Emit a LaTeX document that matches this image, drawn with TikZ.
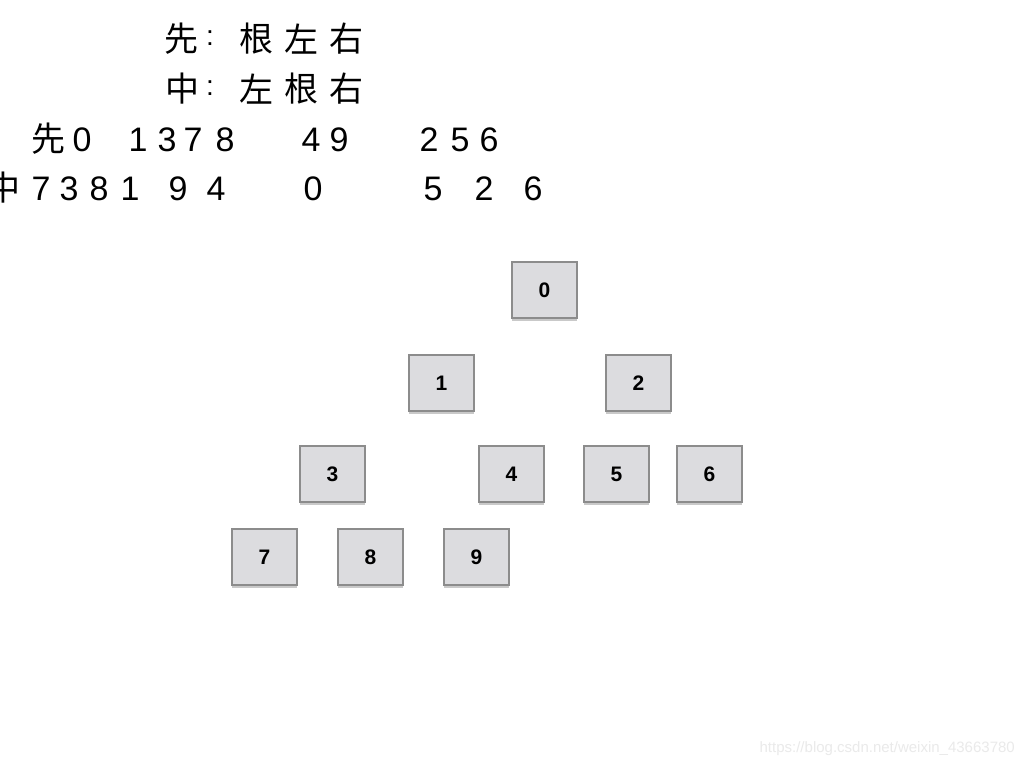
\documentclass[tikz,border=0pt]{standalone}
\usepackage{fontspec}
\setmainfont{Liberation Sans}
\newfontfamily\cjk{Noto Sans CJK SC}
\usetikzlibrary{shadows}
\definecolor{boxfill}{HTML}{DCDCDF}
\definecolor{boxline}{HTML}{8C8C8C}
\definecolor{wm}{HTML}{EAEAEA}
\tikzset{
  treebox/.style={draw=boxline, line width=1.6pt, fill=boxfill, minimum width=65pt, minimum height=56pt,
    inner sep=0pt, font=\fontsize{21}{23}\selectfont\bfseries,
    drop shadow={shadow xshift=0pt, shadow yshift=-2.5pt, opacity=0.35, fill=black!60}},
  han/.style={inner sep=0pt, font=\fontsize{34}{36}\selectfont\cjk},
  dig/.style={inner sep=0pt, font=\fontsize{34}{36}\selectfont},
  colon/.style={inner sep=0pt, font=\fontsize{28}{30}\selectfont},
}
\begin{document}
\begin{tikzpicture}[x=1pt,y=-1pt]
\useasboundingbox (0,0) rectangle (1024,768);
\fill[white] (0,0) rectangle (1024,768);
% line 1
\node[han] (a1) at (181,39) {先};
\node[colon] (a2) at (210,38) {:};
\node[han] (a3) at (256,39) {根};
\node[han] (a4) at (301,39) {左};
\node[han] (a5) at (346,39) {右};
% line 2
\node[han] (b1) at (182,89) {中};
\node[colon] (b2) at (210,88) {:};
\node[han] (b3) at (256,89) {左};
\node[han] (b4) at (301,89) {根};
\node[han] (b5) at (346,89) {右};
% line 3
\node[han] (c0) at (48,139) {先};
\foreach \d/\x [count=\i] in {0/82,1/138,3/167,7/193,8/225,4/311,9/339,2/429,5/460,6/489}
  \node[dig] (c\i) at (\x,140) {\d};
% line 4
\node[han] (d0) at (4,188) {中};
\foreach \d/\x [count=\i] in {7/41,3/69,8/99,1/130,9/178,4/216,0/313,5/433,2/484,6/533}
  \node[dig] (d\i) at (\x,189) {\d};
% tree boxes
\node[treebox] (n0) at (544.5,290) {0};
\node[treebox] (n1) at (441.5,383) {1};
\node[treebox] (n2) at (638.5,383) {2};
\node[treebox] (n3) at (332.5,474) {3};
\node[treebox] (n4) at (511.5,474) {4};
\node[treebox] (n5) at (616.5,474) {5};
\node[treebox] (n6) at (709.5,474) {6};
\node[treebox] (n7) at (264.5,557) {7};
\node[treebox] (n8) at (370.5,557) {8};
\node[treebox] (n9) at (476.5,557) {9};
% watermark
\node[text=wm, font=\fontsize{15}{17}\selectfont, anchor=east, inner sep=0pt] (wm) at (1015,749) {https://blog.csdn.net/weixin\_43663780};
\end{tikzpicture}
\end{document}
